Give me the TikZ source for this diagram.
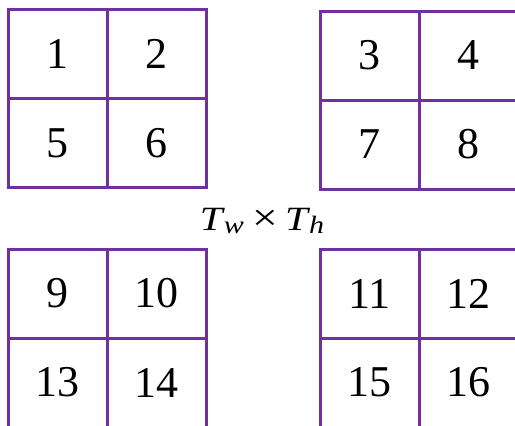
\documentclass[tikz,border=0pt]{standalone}
\usepackage{fontspec}
\setmainfont{Liberation Serif}
\definecolor{gridpurple}{RGB}{112,48,160}
\newcommand{\subtxt}[1]{\raisebox{-3.5pt}{\fontsize{25}{26}\selectfont\itshape #1}}
\begin{document}
\begin{tikzpicture}[x=1pt,y=-1pt,
  cell/.style={draw=gridpurple,line width=3pt,minimum width=99pt,minimum height=89pt,inner sep=0pt,
    font=\fontsize{44}{48}\selectfont,text=black}]
\useasboundingbox (0,0) rectangle (515,426);
\begin{scope}
\clip (0,0) rectangle (515,426);
% top-left
\node[cell] (c1) at (57.5,54) {1};
\node[cell] (c2) at (156.5,54) {2};
\node[cell] (c5) at (57.5,143) {5};
\node[cell] (c6) at (156.5,143) {6};
% top-right
\node[cell] (c3) at (369.5,55.5) {3};
\node[cell] (c4) at (468.5,55.5) {4};
\node[cell] (c7) at (369.5,144.5) {7};
\node[cell] (c8) at (468.5,144.5) {8};
% bottom-left
\node[cell] (c9) at (57.5,293.5) {9};
\node[cell] (c10) at (156.5,293.5) {10};
\node[cell] (c13) at (57.5,382.5) {13};
\node[cell] (c14) at (156.5,382.5) {14};
% bottom-right
\node[cell] (c11) at (369.5,293.5) {11};
\node[cell] (c12) at (468.5,293.5) {12};
\node[cell] (c15) at (369.5,382.5) {15};
\node[cell] (c16) at (468.5,382.5) {16};
\end{scope}
\node[inner sep=0pt,anchor=base,font=\fontsize{34}{36}\selectfont] (lab) at (262,230)
  {\scalebox{1.2}[1]{\itshape T\kern1pt\subtxt{w}\hspace{7pt}\upshape{\fontsize{38}{38}\selectfont ×}\hspace{6pt}\itshape T\kern1pt\subtxt{h}}};
\end{tikzpicture}
\end{document}
